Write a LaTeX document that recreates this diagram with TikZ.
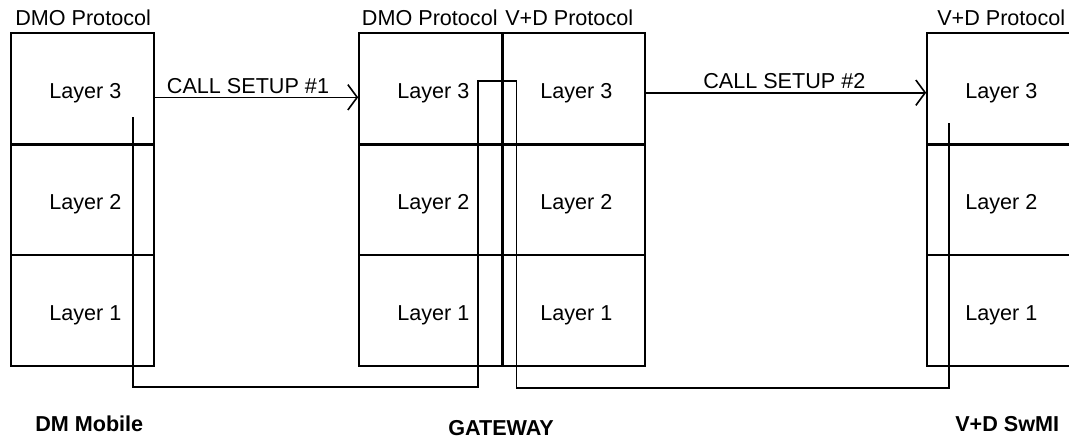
\documentclass[tikz,border=0pt]{standalone}
\usepackage{fontspec}
\setmainfont{Liberation Sans}
\usetikzlibrary{calc,arrows.meta}

\tikzset{
  cell/.style={draw, line width=1.25pt, rectangle, inner sep=0pt,
    minimum width=107pt, minimum height=83.25pt},
  layertext/.style={inner sep=0pt},
  caption/.style={inner sep=0pt, anchor=base west},
  heavy/.style={line width=2pt},
  divider/.style={line width=2.8pt},
  msg/.style={line width=1.2pt, -{Straight Barb[length=7pt,width=19pt,line width=1.2pt]}},
  link/.style={line width=1.2pt}
}

\begin{document}
\begin{tikzpicture}[x=0.75pt, y=-0.75pt,
  every node/.style={font=\fontsize{16.2}{19}\selectfont}]
\useasboundingbox (0,0) rectangle (1069,439);

% protocol stacks: DM mobile, gateway (two halves), V+D SwMI
\foreach \s/\x in {m/82.35, gl/430.35, gr/573.35, s/998.35}{
  \node[cell] (\s3) at (\x,88.5) {};
  \node[cell] (\s2) at (\x,199.5) {};
  \node[cell] (\s1) at (\x,310.5) {};
  \draw[heavy] (\s3.south west) -- (\s3.south east);
  \foreach \n in {3,2,1}{
    \node[layertext] (\s t\n) at ($(\s\n.center)+(3,5)$) {Layer \n};
  }
}
\draw[divider] (gl3.north east) -- (gl1.south east);

% stack captions
\node[caption] (capm)  at (15,25)    {DMO Protocol};
\node[caption] (capgl) at (361.7,26) {DMO Protocol};
\node[caption] (capgr) at (505,25)   {V+D Protocol};
\node[caption] (caps)  at (937,25)   {V+D Protocol};

% call setup messages
\draw[msg] ($(m3.east)+(0,8.8)$) -- ($(gl3.west)+(0,8.8)$);
\node[caption] (cs1) at (166.7,93) {CALL SETUP \#1};
\draw[msg] ($(gr3.east)+(0,4.2)$) -- ($(s3.west)+(0,4.2)$);
\node[caption] (cs2) at (703,88.3) {CALL SETUP \#2};

% path through the stacks
\coordinate (mobTop) at (133,117);
\coordinate (gwA) at (478,81);
\coordinate (gwB) at (516.5,81);
\coordinate (swTop) at (949,123);
\draw[link] (mobTop) -- ++(0,270) -| (gwA) -- (gwB) -- ++(0,307) -| (swTop);

% entity names
\node[caption, font=\fontsize{16.2}{19}\selectfont\bfseries] (nm) at (35,431.5) {DM Mobile};
\node[caption, font=\fontsize{16.2}{19}\selectfont\bfseries] (ng) at (448,435) {GATEWAY};
\node[caption, font=\fontsize{16.2}{19}\selectfont\bfseries] (ns) at (955,431.5) {V+D SwMI};
\end{tikzpicture}
\end{document}
